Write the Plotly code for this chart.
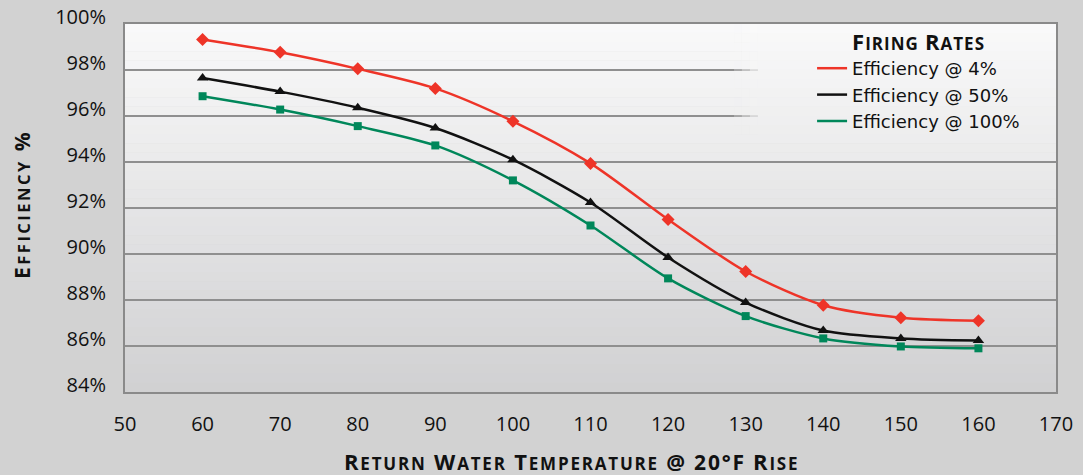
import plotly.graph_objects as go

# ---- data ----
temps = [60, 70, 80, 90, 100, 110, 120, 130, 140, 150, 160]
eff_4 = [99.33, 98.77, 98.05, 97.20, 95.77, 93.94, 91.50, 89.24, 87.77, 87.23, 87.10]
eff_50 = [97.65, 97.06, 96.36, 95.48, 94.10, 92.24, 89.85, 87.89, 86.67, 86.33, 86.24]
eff_100 = [96.86, 96.28, 95.56, 94.72, 93.20, 91.24, 88.94, 87.30, 86.33, 85.98, 85.90]
series_names = ["Efficiency @ 4%", "Efficiency @ 50%", "Efficiency @ 100%"]
y_ticks = [84, 86, 88, 90, 92, 94, 96, 98, 100]
y_ticktext = ["84%", "86%", "88%", "90%", "92%", "94%", "96%", "98%", "100%"]
x_ticks = [50, 60, 70, 80, 90, 100, 110, 120, 130, 140, 150, 160, 170]

colors = ["#ee3428", "#111111", "#00875a"]
symbols = ["diamond", "triangle-up", "square"]
sizes = [10, 10, 8]
FONT = "Open Sans"

fig = go.Figure()
for vals, name, c, s, sz in zip([eff_4, eff_50, eff_100], series_names, colors, symbols, sizes):
    fig.add_trace(go.Scatter(
        x=temps, y=vals, mode="lines+markers", name=name, showlegend=False,
        line=dict(color=c, width=2.5, shape="spline", smoothing=0.8),
        marker=dict(symbol=s, size=sz, color=c),
    ))
for name, c in zip(series_names, colors):
    fig.add_trace(go.Scatter(x=[None], y=[None], mode="lines", name=name,
                             line=dict(color=c, width=2.5)))

def grad(f):
    top = (250, 250, 250)
    bot = (208, 208, 210)
    r, g, b = [int(round(t + (bb - t) * f)) for t, bb in zip(top, bot)]
    return f"rgb({r},{g},{b})"

shapes = []
N = 40
for i in range(N):
    f0, f1 = i / N, (i + 1) / N
    shapes.append(dict(type="rect", xref="paper", yref="paper", x0=0, x1=1,
                       y0=1 - f1, y1=1 - f0 + 0.001, fillcolor=grad((i + 0.5) / N),
                       line=dict(width=0), layer="below"))
ymin_mask = 95.0
for i in range(N):
    y_top = 100 - 16 * i / N
    y_bot = 100 - 16 * (i + 1) / N
    if y_bot < ymin_mask - 0.01:
        break
    col = grad((i + 0.5) / N)
    shapes.append(dict(type="rect", xref="x", yref="y", x0=131.5, x1=170,
                       y0=y_bot, y1=y_top + 0.01, fillcolor=col,
                       line=dict(width=0), layer="between"))
    for k, op in enumerate([0.25, 0.5, 0.75]):
        shapes.append(dict(type="rect", xref="x", yref="y", x0=128.5 + k, x1=129.5 + k,
                           y0=y_bot, y1=y_top + 0.01, fillcolor=col, opacity=op,
                           line=dict(width=0), layer="between"))

def sc(big, small, bs, ss):
    return f"<span style='font-size:{bs}px'>{big}</span><span style='font-size:{ss}px'>{small}</span>"

y_title = ("<b><span style='letter-spacing:2.5px'>" + sc("E", "FFICIENCY", 21, 16.5) +
           "<span style='font-size:21px'> %</span></span></b>")
x_title = ("<b><span style='letter-spacing:1.8px'>" + sc("R", "ETURN", 22, 17) + " " + sc("W", "ATER", 22, 17) + " " +
           sc("T", "EMPERATURE", 22, 17) + "<span style='font-size:21px'> @ 20°F </span>" +
           sc("R", "ISE", 22, 17) + "</span></b>")
legend_title = ("<b><span style='letter-spacing:1px'>" + sc("F", "IRING", 22, 17) + " " +
                sc("R", "ATES", 22, 17) + "</span></b>")

fig.update_layout(
    width=1083, height=475,
    margin=dict(l=125, r=27, t=24, b=83),
    paper_bgcolor="#d2d2d2",
    plot_bgcolor="rgba(0,0,0,0)",
    font=dict(family=FONT, color="#111111", size=20),
    shapes=shapes,
    showlegend=True,
    legend=dict(
        x=0.738, y=1.0, xanchor="left", yanchor="top",
        bgcolor="rgba(0,0,0,0)", borderwidth=0,
        title=dict(text=legend_title, side="top center", font=dict(family=FONT, size=20)),
        font=dict(family="DejaVu Sans", size=18), itemwidth=30, tracegroupgap=0,
    ),
    annotations=[
        dict(text=y_title, xref="paper", yref="paper", x=-(125 - 22) / 931,
             y=1 - (205 - 24) / 368,
             textangle=-90, showarrow=False, xanchor="center", yanchor="middle",
             font=dict(family=FONT, size=21)),
        dict(text=x_title, xref="paper", yref="paper", x=(571 - 125) / 931,
             y=-(461 - 392) / 368, showarrow=False, xanchor="center", yanchor="middle",
             font=dict(family=FONT, size=22)),
    ],
)
fig.update_xaxes(range=[50, 170], tickvals=x_ticks, showgrid=False, zeroline=False,
                 showline=True, linecolor="#8a8a8a", linewidth=2, mirror=True,
                 ticks="", ticklabelstandoff=13, tickfont=dict(size=20), automargin=False)
fig.update_yaxes(range=[84, 100], tickvals=y_ticks, ticktext=y_ticktext, showgrid=True,
                 gridcolor="#8f8f8f", gridwidth=2, zeroline=False,
                 showline=True, linecolor="#8a8a8a", linewidth=2, mirror=True,
                 ticks="", ticklabelstandoff=13, ticklabelshift=-7, tickfont=dict(size=20),
                 automargin=False)

fig.write_html("out.html", config={"displayModeBar": False},
               post_script="document.body.style.margin='0px';")
